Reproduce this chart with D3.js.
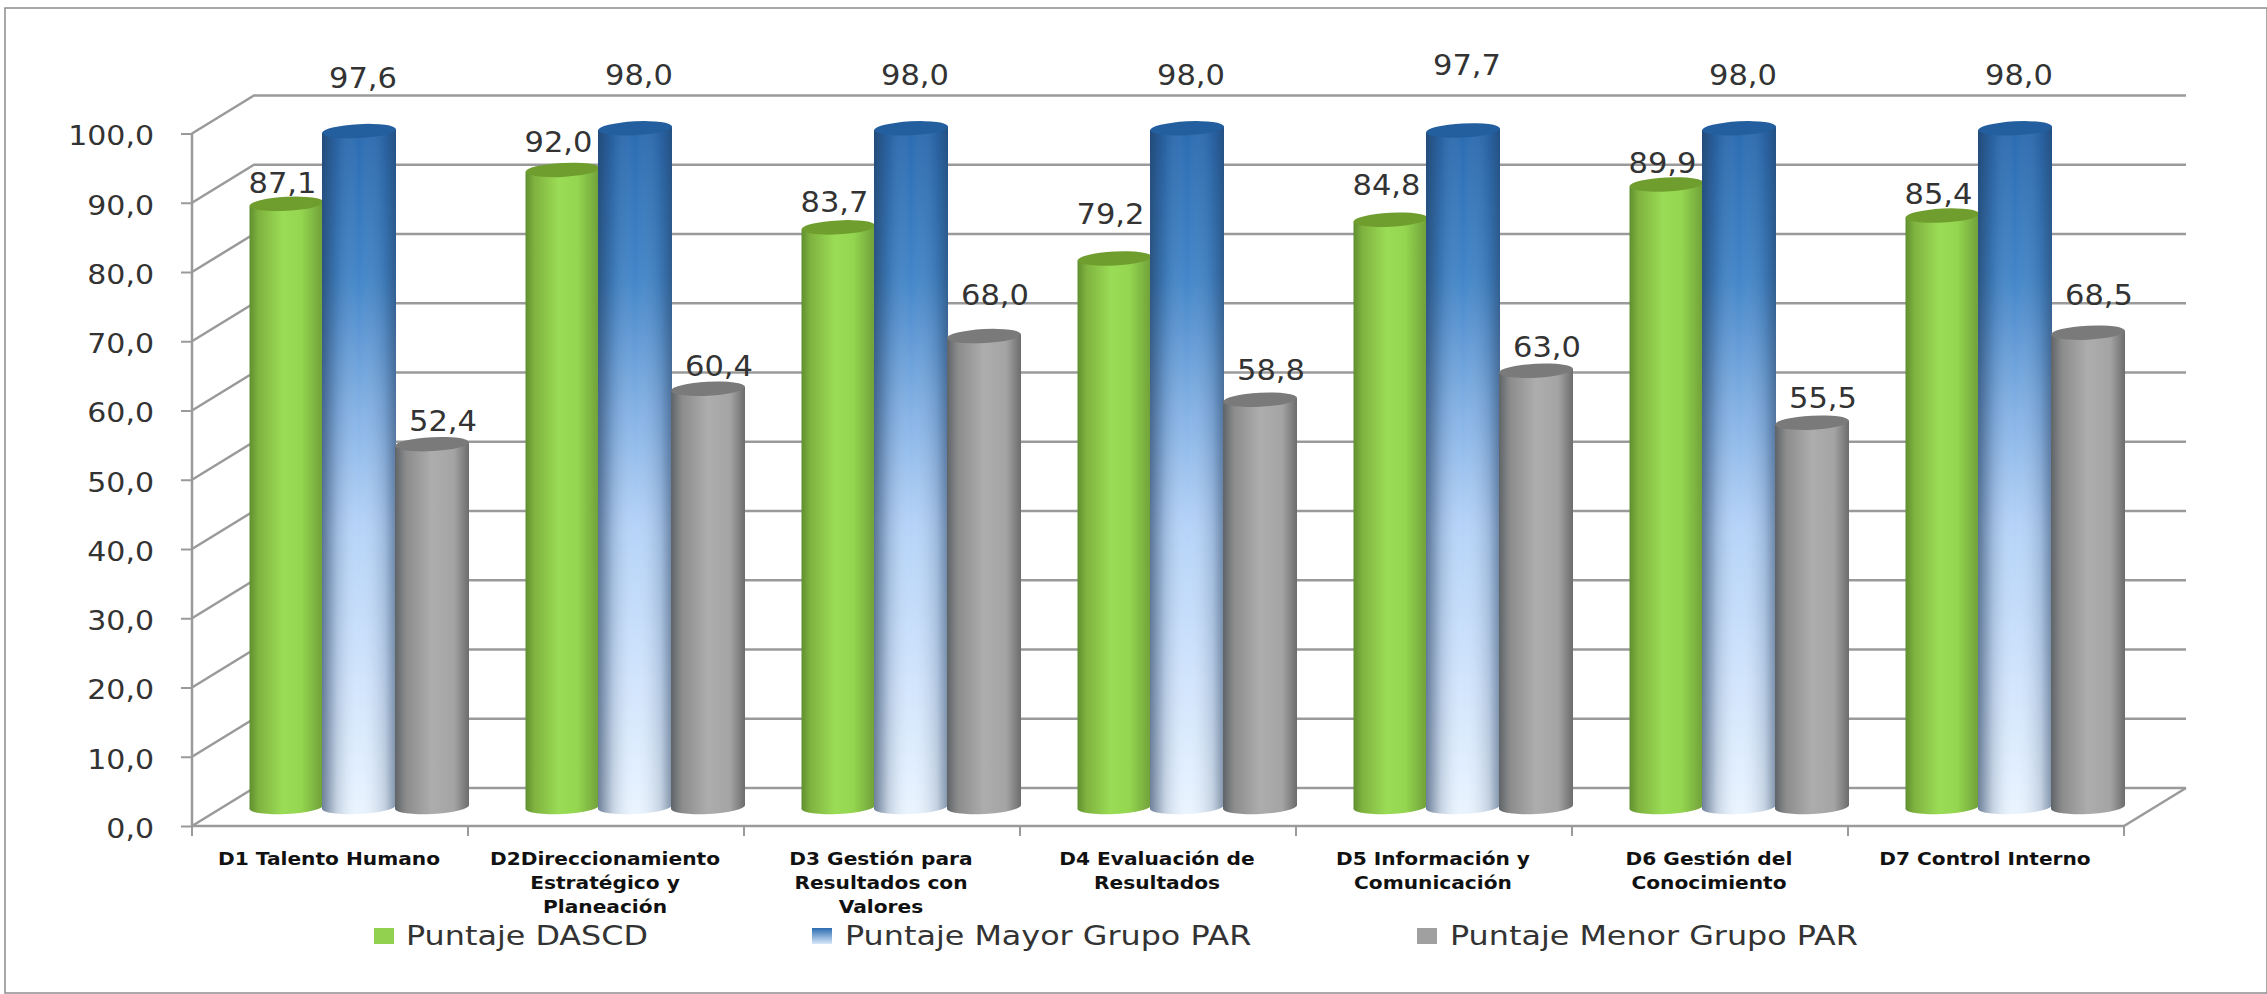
<!DOCTYPE html>
<html>
<head>
<meta charset="utf-8">
<script src="https://cdn.jsdelivr.net/npm/d3@7"></script>
<style>
html, body { margin: 0; padding: 0; background: #fff; }
svg { display: block; }
text { font-family: "DejaVu Sans", sans-serif; fill: #333; }
</style>
</head>
<body>
<script>
var categories = [
	["D1 Talento Humano"],
	["D2Direccionamiento", "Estratégico y", "Planeación"],
	["D3 Gestión para", "Resultados con", "Valores"],
	["D4 Evaluación de", "Resultados"],
	["D5 Información y", "Comunicación"],
	["D6 Gestión del", "Conocimiento"],
	["D7 Control Interno"]
];
var puntajeDascd = [87.1, 92.0, 83.7, 79.2, 84.8, 89.9, 85.4];
var puntajeMayor = [97.6, 98.0, 98.0, 98.0, 97.7, 98.0, 98.0];
var puntajeMenor = [52.4, 60.4, 68.0, 58.8, 63.0, 55.5, 68.5];
var seriesNames = ["Puntaje DASCD", "Puntaje Mayor Grupo PAR", "Puntaje Menor Grupo PAR"];
var yTicks = d3.range(0, 101, 10);

// las etiquetas del original estan movidas a mano: cuanto sube cada una sobre su barra
var subeDascd = [11, 18, 15, 35, 25, 11, 12];
var subeMayor = [43, 43, 43, 43, 55, 43, 43];
var subeMenor = [13, 13, 31, 20, 14, 15, 28];

var width = 2267, height = 994;
var coma = d3.format(".1f");
var fmt = v => coma(v).replace(".", ",");

var svg = d3.select("body").append("svg").attr("width", width).attr("height", height);
var defs = svg.append("defs");

// el texto del original esta estirado a lo ancho
function estirar(sel, k) {
	sel.each(function() {
		this.setAttribute("textLength", this.getComputedTextLength() * k);
		this.setAttribute("lengthAdjust", "spacingAndGlyphs");
	});
}

// gradientes horizontales de los cilindros
function gradH(id, stops) {
	var g = defs.append("linearGradient").attr("id", id);
	stops.forEach(s => g.append("stop").attr("offset", s[0]).attr("stop-color", s[1]));
}
gradH("verde", [[0, "#5f8f2f"], [0.12, "#7fb23f"], [0.45, "#9adc55"], [0.7, "#94d650"], [1, "#6f9f38"]]);
gradH("gris", [[0, "#5f6468"], [0.15, "#8c8c8c"], [0.5, "#adadad"], [0.8, "#a4a4a4"], [1, "#6c6c6c"]]);
// el azul tambien cambia en vertical: se arma con una sombra encima
var gAzul = defs.append("linearGradient").attr("id", "azul")
	.attr("gradientUnits", "userSpaceOnUse").attr("x1", 0).attr("x2", 0).attr("y1", 125).attr("y2", 815);
[[0, "#2a6ab0"], [0.22, "#4285c8"], [0.42, "#86b3e6"], [0.58, "#b5d3f8"], [0.82, "#d3e6fd"], [1, "#eaf4ff"]]
	.forEach(s => gAzul.append("stop").attr("offset", s[0]).attr("stop-color", s[1]));
gradH("sombraAzul", [[0, "#1c3556"], [0.2, "#1c3556"], [0.5, "#ffffff"], [0.85, "#1c3556"], [1, "#1c3556"]]);
defs.select("#sombraAzul").selectAll("stop")
	.attr("stop-opacity", (d, i) => [0.6, 0.18, 0, 0.18, 0.5][i]);
var gLeyendaAzul = defs.append("linearGradient").attr("id", "leyendaAzul")
	.attr("x1", 0).attr("x2", 0).attr("y1", 0).attr("y2", 1);
gLeyendaAzul.append("stop").attr("offset", 0).attr("stop-color", "#2b6cb0");
gLeyendaAzul.append("stop").attr("offset", 1).attr("stop-color", "#d8e8fb");

// marco
svg.append("rect").attr("x", 5).attr("y", 8).attr("width", 2262).attr("height", 985)
	.attr("fill", "#fff").attr("stroke", "#8c8c8c").attr("stroke-width", 1.5);

// escalas
var x0 = 192, x1 = 2124, dx = 62, dy = 38;
var y = d3.scaleLinear().domain([0, 100]).range([826, 133.5]);
var xBand = d3.scaleBand().domain(d3.range(categories.length)).range([x0, x1]);
var gris = "#9a9a9a";

// pared del fondo y lineas de rejilla
var rejilla = svg.append("g");
yTicks.forEach(function(t) {
	rejilla.append("path")
		.attr("d", `M${x0},${y(t)}L${x0 + dx},${y(t) - dy}L${x1 + dx},${y(t) - dy}`)
		.attr("fill", "none").attr("stroke", gris).attr("stroke-width", 2.5);
});
rejilla.append("line").attr("x1", x0).attr("x2", x0).attr("y1", y(0)).attr("y2", y(100))
	.attr("stroke", gris).attr("stroke-width", 2.5);
rejilla.append("line").attr("x1", x0).attr("x2", x1).attr("y1", y(0)).attr("y2", y(0))
	.attr("stroke", gris).attr("stroke-width", 2.5);
rejilla.append("line").attr("x1", x1).attr("x2", x1 + dx).attr("y1", y(0)).attr("y2", y(0) - dy)
	.attr("stroke", gris).attr("stroke-width", 2.5);

// eje Y
var ejeY = svg.append("g").attr("transform", `translate(${x0},0)`)
	.call(d3.axisLeft(y).tickValues(yTicks).tickSize(11).tickFormat(fmt));
ejeY.select(".domain").remove();
ejeY.selectAll("line").attr("stroke", gris).attr("stroke-width", 2);
ejeY.selectAll("text").attr("font-size", 27).attr("dx", -24).attr("dy", "0.42em").style("fill", "#333")
	.call(estirar, 1.11);

// marcas del eje X
svg.append("g").selectAll("line").data(d3.range(categories.length + 1)).join("line")
	.attr("x1", i => x0 + i * xBand.bandwidth()).attr("x2", i => x0 + i * xBand.bandwidth())
	.attr("y1", y(0)).attr("y2", y(0) + 10)
	.attr("stroke", gris).attr("stroke-width", 2);

// cilindros
var offsets = [-72.5, 0, 73];
var rx = 37, ry = 7, inclina = 2, fondo = 19;
var series = [
	{ vals: puntajeDascd, sube: subeDascd, fill: "url(#verde)", tapa: "#6f9e2f", etiqueta: -4 },
	{ vals: puntajeMayor, sube: subeMayor, fill: "url(#azul)", tapa: "#235f9f", sombra: true, etiqueta: 4 },
	{ vals: puntajeMenor, sube: subeMenor, fill: "url(#gris)", tapa: "#7a7a7a", etiqueta: 11 }
];
var centro = (i, k) => xBand(i) + xBand.bandwidth() / 2 + offsets[k] + 29;
var barras = svg.append("g");
categories.forEach(function(c, i) {
	series.forEach(function(s, k) {
		var cx = centro(i, k);
		var yBase = y(0) - fondo;
		var yTop = y(s.vals[i]) - fondo;
		var cuerpo = `M${cx - rx},${yTop + inclina}L${cx - rx},${yBase + inclina}` +
			`A${rx},${ry} -3 0 0 ${cx + rx},${yBase - inclina}L${cx + rx},${yTop - inclina}Z`;
		barras.append("path").attr("d", cuerpo).attr("fill", s.fill);
		if (s.sombra) barras.append("path").attr("d", cuerpo).attr("fill", "url(#sombraAzul)");
		barras.append("ellipse").attr("cx", cx).attr("cy", yTop).attr("rx", rx).attr("ry", ry)
			.attr("transform", `rotate(-3 ${cx} ${yTop})`)
			.attr("fill", s.tapa);
	});
});

// etiquetas de datos
var etiquetas = svg.append("g").attr("font-size", 27.5).attr("text-anchor", "middle");
categories.forEach(function(c, i) {
	series.forEach(function(s, k) {
		etiquetas.append("text")
			.attr("x", centro(i, k) + s.etiqueta)
			.attr("y", y(s.vals[i]) - fondo - s.sube[i])
			.text(fmt(s.vals[i]))
			.call(estirar, 1.11);
	});
});

// categorias
var cats = svg.append("g").attr("font-size", 18).attr("font-weight", "bold").attr("text-anchor", "middle");
categories.forEach(function(lineas, i) {
	lineas.forEach(function(l, j) {
		cats.append("text").attr("x", xBand(i) + xBand.bandwidth() / 2 - 1).attr("y", 865 + j * 24)
			.style("fill", "#111").text(l)
			.call(estirar, 1.12);
	});
});

// leyenda
var leyenda = svg.append("g");
var legX = [374, 812, 1417];
var legFill = ["#92d050", "url(#leyendaAzul)", "#a0a0a0"];
seriesNames.forEach(function(n, i) {
	leyenda.append("rect").attr("x", legX[i]).attr("y", 928).attr("width", 20).attr("height", 16).attr("fill", legFill[i]);
	leyenda.append("text").attr("x", legX[i] + (i == 0 ? 32 : 33)).attr("y", 945).attr("font-size", 26.5).text(n)
		.call(estirar, 1.2);
});
</script>
</body>
</html>
